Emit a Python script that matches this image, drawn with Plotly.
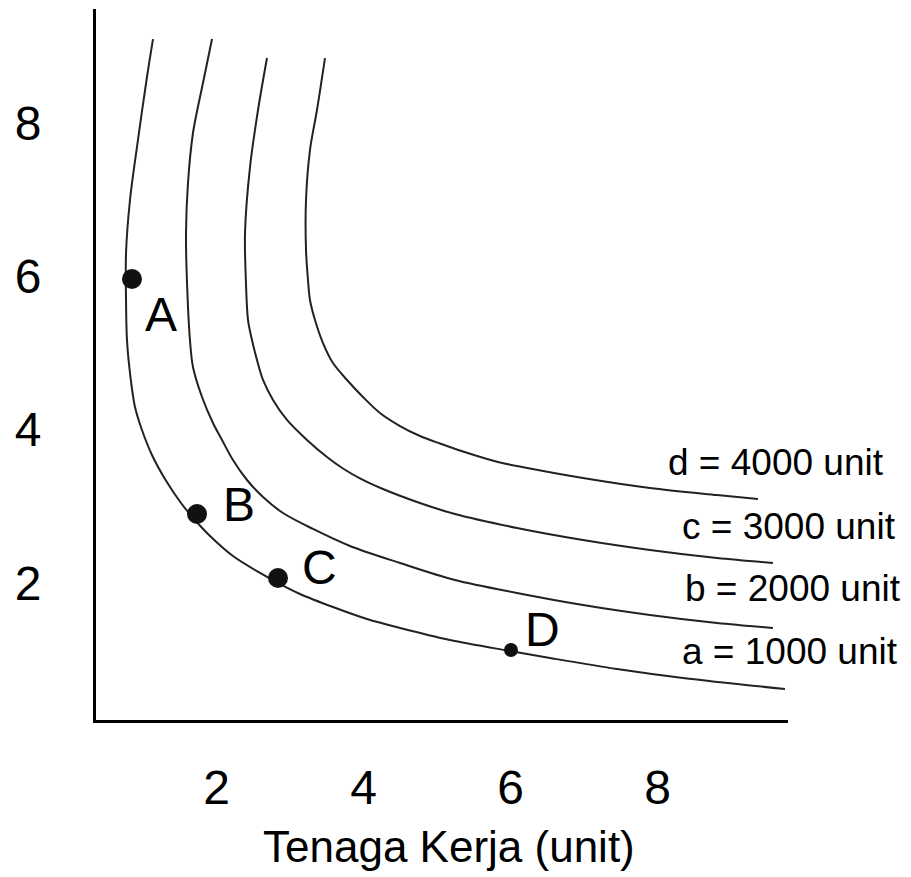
import plotly.graph_objects as go

# Isoquant curves (Tenaga Kerja on x, Modal on y)
a_x = [1.136, 1.054, 0.918, 0.823, 0.769, 0.769, 0.782, 0.823, 0.891, 0.986, 1.122, 1.299, 1.517, 1.707,
       1.912, 2.224, 2.592, 2.864, 3.136, 3.585, 4.048, 4.497, 5.177, 5.993, 6.537, 7.449, 8.347, 9.735]
a_y = [9.093, 8.598, 7.684, 6.993, 6.301, 5.688, 5.166, 4.736, 4.292, 3.992, 3.666, 3.353, 3.040, 2.818,
       2.609, 2.348, 2.127, 1.983, 1.853, 1.683, 1.526, 1.409, 1.252, 1.109, 1.018, 0.874, 0.757, 0.613]

b_x = [1.939, 1.816, 1.680, 1.612, 1.585, 1.599, 1.639, 1.680, 1.803, 1.952, 2.075, 2.224, 2.415, 2.633,
       2.905, 3.313, 3.816, 4.497, 5.245, 6.088, 6.986, 7.898, 8.810, 9.571]
b_y = [9.093, 8.519, 7.867, 7.215, 6.562, 5.910, 5.166, 4.814, 4.423, 4.084, 3.862, 3.601, 3.340, 3.118,
       2.909, 2.701, 2.479, 2.257, 2.035, 1.866, 1.709, 1.579, 1.474, 1.409]

c_x = [2.687, 2.565, 2.456, 2.388, 2.401, 2.429, 2.483, 2.551, 2.633, 2.769, 2.959, 3.231, 3.503, 3.721,
       3.952, 4.265, 4.728, 5.245, 6.088, 6.986, 7.898, 8.810, 9.571]
c_y = [8.845, 8.167, 7.423, 6.562, 5.910, 5.427, 5.166, 4.905, 4.645, 4.384, 4.123, 3.862, 3.640, 3.490,
       3.361, 3.222, 3.053, 2.896, 2.714, 2.557, 2.427, 2.322, 2.257]

d_x = [3.476, 3.367, 3.272, 3.218, 3.218, 3.245, 3.272, 3.340, 3.449, 3.585, 3.776, 3.993, 4.224, 4.497,
       4.769, 5.041, 5.354, 5.830, 6.088, 6.986, 7.898, 8.810, 9.367]
d_y = [8.845, 8.167, 7.645, 6.993, 6.341, 5.949, 5.688, 5.427, 5.127, 4.866, 4.645, 4.423, 4.214, 4.044,
       3.914, 3.816, 3.712, 3.575, 3.523, 3.366, 3.236, 3.144, 3.092]

# Points on isoquant a
pt_names = ["A", "B", "C", "D"]
pt_x = [0.850, 1.735, 2.837, 6.007]
pt_y = [5.962, 2.896, 2.061, 1.122]
pt_sizes = [20, 20, 20, 14]
pt_label_x = [1.245, 2.306, 3.408, 6.429]
pt_label_y = [5.493, 3.014, 2.192, 1.383]

# Curve labels (left edge position)
curve_labels = ["d = 4000 unit", "c = 3000 unit", "b = 2000 unit", "a = 1000 unit"]
curve_label_x = [8.116, 8.306, 8.347, 8.306]
curve_label_y = [3.562, 2.727, 1.918, 1.096]

x_ticks = [2, 4, 6, 8]
y_ticks = [2, 4, 6, 8]
x_title = "Tenaga Kerja (unit)"

FONT = "Liberation Sans, Arial, sans-serif"
LINE = "#222222"

fig = go.Figure()
for xs, ys in [(a_x, a_y), (b_x, b_y), (c_x, c_y), (d_x, d_y)]:
    fig.add_trace(go.Scatter(x=xs, y=ys, mode="lines", line=dict(color=LINE, width=2, shape="spline", smoothing=0.9),
                             hoverinfo="skip", showlegend=False))

fig.add_trace(go.Scatter(x=pt_x, y=pt_y, mode="markers",
                         marker=dict(size=pt_sizes, color="#111111", opacity=1, line=dict(width=0)),
                         showlegend=False, cliponaxis=False))

annotations = []
for n, lx, ly in zip(pt_names, pt_label_x, pt_label_y):
    annotations.append(dict(x=lx, y=ly, xref="x", yref="y", text=n, showarrow=False,
                            font=dict(family=FONT, size=48, color="#000"), xanchor="center", yanchor="middle"))
for t, lx, ly in zip(curve_labels, curve_label_x, curve_label_y):
    annotations.append(dict(x=lx, y=ly, xref="x", yref="y", text=t, showarrow=False,
                            font=dict(family=FONT, size=37, color="#000"), xanchor="left", yanchor="middle"))
annotations.append(dict(x=5.163, y=-0.178, xref="x", yref="paper", text=x_title, showarrow=False,
                        font=dict(family=FONT, size=44, color="#000"), xanchor="center", yanchor="middle"))

# page body has an 8px default margin, so the figure is 8px smaller than the window
fig.update_layout(
    width=903, height=869,
    margin=dict(l=88, r=123, t=1, b=157),
    paper_bgcolor="white", plot_bgcolor="white",
    annotations=annotations,
    showlegend=False,
)
fig.update_xaxes(range=[0.3605, 9.776], tickvals=x_ticks, ticktext=[str(v) for v in x_ticks],
                 showgrid=False, zeroline=False, showline=True, linecolor="#000", linewidth=3,
                 ticks="", ticklabelstandoff=23, tickfont=dict(family=FONT, size=48, color="#000"))
fig.update_yaxes(range=[0.2087, 9.485], tickvals=y_ticks, ticktext=[str(v) for v in y_ticks],
                 showgrid=False, zeroline=False, showline=True, linecolor="#000", linewidth=3,
                 ticks="", ticklabelstandoff=42, tickfont=dict(family=FONT, size=48, color="#000"))

fig.write_html("out.html")
